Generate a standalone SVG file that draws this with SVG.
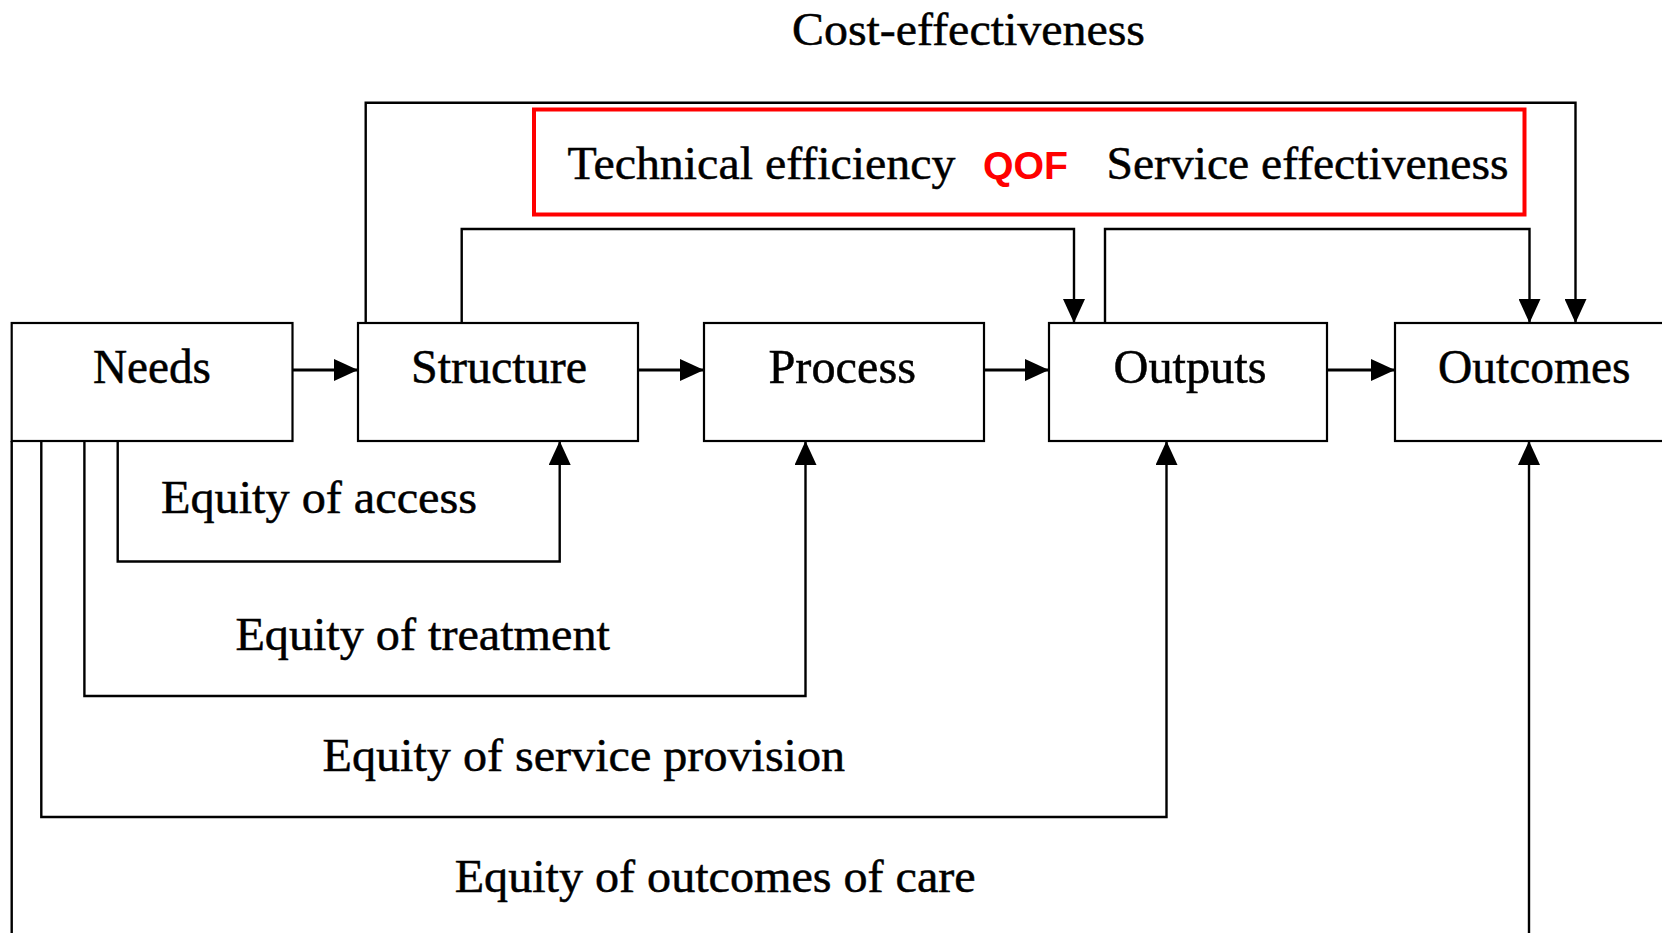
<svg xmlns="http://www.w3.org/2000/svg" width="1662" height="933" viewBox="0 0 1662 933">
  <style>
    .box { fill: #ffffff; stroke: #000000; stroke-width: 2.2; }
    .lbl { font-family: "Liberation Serif", "Times New Roman", serif; font-size: 48px; fill: #000000; stroke: #000000; stroke-width: 0.5; }
    .cap { font-family: "Liberation Serif", "Times New Roman", serif; font-size: 47px; fill: #000000; stroke: #000000; stroke-width: 0.5; }
    .conn { fill: none; stroke: #000000; stroke-width: 2.4; }
    .flow { stroke-width: 3; }
    .qof { font-family: "Liberation Sans", Arial, sans-serif; font-weight: bold; font-size: 39px; fill: #ff0000; }
  </style>
  <defs>
    <marker id="arrow" markerUnits="userSpaceOnUse" markerWidth="24" markerHeight="22" refX="24" refY="11" orient="auto">
      <path d="M0,0 L24,11 L0,22 Z" fill="#000000"/>
    </marker>
  </defs>

  <rect width="1662" height="933" fill="#ffffff"/>

  <!-- connectors -->
  <g id="connectors" class="conn" marker-end="url(#arrow)">
    <path class="flow" d="M292,370 H358"/>
    <path class="flow" d="M638,370 H704"/>
    <path class="flow" d="M984,370 H1049"/>
    <path class="flow" d="M1327,370 H1395"/>
    <!-- cost-effectiveness -->
    <path d="M365.7,323 V102.7 H1575.5 V323"/>
    <!-- technical efficiency -->
    <path d="M461.7,323 V229 H1074 V323"/>
    <!-- service effectiveness -->
    <path d="M1105,323 V229 H1529.5 V323"/>
    <!-- equity of access -->
    <path d="M117.7,441 V561.5 H559.7 V441"/>
    <!-- equity of treatment -->
    <path d="M84.4,441 V696 H805.5 V441"/>
    <!-- equity of service provision -->
    <path d="M41.3,441 V817 H1166.5 V441"/>
    <!-- equity of outcomes of care -->
    <path d="M11.7,441 V960 H1529 V441"/>
  </g>

  <g id="needs">
    <rect class="box" x="11.7" y="323" width="280.8" height="118"/>
    <text class="lbl" x="93" y="383" textLength="118" lengthAdjust="spacingAndGlyphs">Needs</text>
  </g>
  <g id="structure">
    <rect class="box" x="358" y="323" width="280" height="118"/>
    <text class="lbl" x="411" y="383" textLength="176" lengthAdjust="spacingAndGlyphs">Structure</text>
  </g>
  <g id="process">
    <rect class="box" x="704" y="323" width="280" height="118"/>
    <text class="lbl" x="768.5" y="383" textLength="147.5" lengthAdjust="spacingAndGlyphs">Process</text>
  </g>
  <g id="outputs">
    <rect class="box" x="1049" y="323" width="278" height="118"/>
    <text class="lbl" x="1113.5" y="383" textLength="153" lengthAdjust="spacingAndGlyphs">Outputs</text>
  </g>
  <g id="outcomes">
    <rect class="box" x="1395" y="323" width="290" height="118"/>
    <text class="lbl" x="1438" y="383" textLength="192.5" lengthAdjust="spacingAndGlyphs">Outcomes</text>
  </g>

  <g id="cost-effectiveness">
    <text class="cap" x="792" y="44.5" textLength="353" lengthAdjust="spacingAndGlyphs">Cost-effectiveness</text>
  </g>

  <g id="efficiency-panel">
    <rect x="534" y="109.5" width="990.5" height="105" fill="none" stroke="#ff0000" stroke-width="4"/>
    <text class="cap" x="567.5" y="178.5" textLength="388" lengthAdjust="spacingAndGlyphs">Technical efficiency</text>
    <text class="qof" x="983" y="178.5" textLength="85" lengthAdjust="spacingAndGlyphs">QOF</text>
    <text class="cap" x="1106.5" y="178.5" textLength="402" lengthAdjust="spacingAndGlyphs">Service effectiveness</text>
  </g>

  <g id="equity-labels">
    <text class="cap" x="161" y="513" textLength="316" lengthAdjust="spacingAndGlyphs">Equity of access</text>
    <text class="cap" x="235.4" y="650" textLength="374.5" lengthAdjust="spacingAndGlyphs">Equity of treatment</text>
    <text class="cap" x="322.6" y="771" textLength="522.5" lengthAdjust="spacingAndGlyphs">Equity of service provision</text>
    <text class="cap" x="454.7" y="891.5" textLength="521" lengthAdjust="spacingAndGlyphs">Equity of outcomes of care</text>
  </g>
</svg>
